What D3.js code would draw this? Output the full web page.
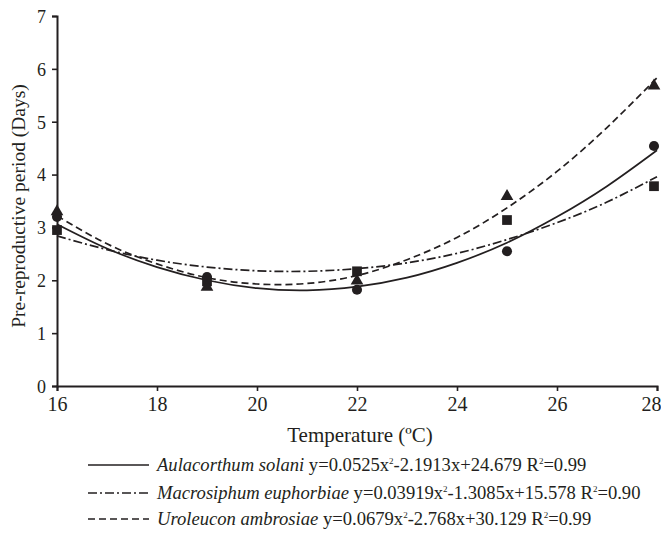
<!DOCTYPE html>
<html>
<head>
<meta charset="utf-8">
<script src="https://cdn.jsdelivr.net/npm/d3@7"></script>
<style>
  body { margin: 0; background: #fff; }
  svg text { font-family: "Liberation Serif", "Times New Roman", serif; fill: #231f20; }
</style>
</head>
<body>
<div id="chart"></div>
<script>
// observed temperatures and pre-reproductive period (days)
const temps = [16, 19, 22, 25, 28];
const solani = [3.2, 2.06, 1.82, 2.55, 4.54];
const euphorbiae = [2.95, 1.98, 2.17, 3.14, 3.78];
const ambrosiae = [3.3, 1.87, 1.99, 3.59, 5.68];

// fitted trend lines at each degree
const curveTemps = [16, 17, 18, 19, 20, 21, 22, 23, 24, 25, 26, 27, 28];
const solaniFit = [3.06, 2.6, 2.25, 2.0, 1.85, 1.81, 1.88, 2.05, 2.33, 2.71, 3.2, 3.78, 4.46];
const euphorbiaeFit = [2.84, 2.58, 2.38, 2.25, 2.18, 2.17, 2.22, 2.33, 2.51, 2.77, 3.09, 3.48, 3.96];
const ambrosiaeFit = [3.22, 2.69, 2.31, 2.05, 1.93, 1.94, 2.09, 2.39, 2.81, 3.37, 4.06, 4.89, 5.83];

const xTicks = [16, 18, 20, 22, 24, 26, 28];
const yTicks = [0, 1, 2, 3, 4, 5, 6, 7];

const legendNames = ["Aulacorthum solani", "Macrosiphum euphorbiae", "Uroleucon ambrosiae"];
const legendEq = [
  ["y=0.0525x", "2", "-2.1913x+24.679 R", "2", "=0.99"],
  ["y=0.03919x", "2", "-1.3085x+15.578 R", "2", "=0.90"],
  ["y=0.0679x", "2", "-2.768x+30.129 R", "2", "=0.99"],
];

const ink = "#231f20";
const width = 661, height = 533;

const svg = d3
  .select("#chart")
  .append("svg")
  .attr("width", width)
  .attr("height", height);

const x = d3.scaleLinear().domain([16, 28]).range([57, 657]);
const y = d3.scaleLinear().domain([0, 7]).range([386, 16]);

// axes
const xAxis = svg
  .append("g")
  .attr("transform", `translate(0, ${y(0)})`)
  .call(d3.axisBottom(x).tickValues(xTicks).tickSize(5).tickPadding(6).tickFormat(d3.format("d")));
const yAxis = svg
  .append("g")
  .attr("transform", `translate(${x(16)}, 0)`)
  .call(d3.axisLeft(y).tickValues(yTicks).tickSize(5).tickPadding(6).tickFormat(d3.format("d")));

[xAxis, yAxis].forEach((g) => {
  g.select(".domain").attr("stroke", ink).attr("stroke-width", 2);
  g.selectAll(".tick line").attr("stroke", ink).attr("stroke-width", 1.6);
  g.selectAll(".tick text").attr("fill", ink).style("font-family", "Liberation Serif");
});
xAxis.selectAll(".tick text").style("font-size", "20px");
// last label sits against the right edge, as in the source
xAxis.selectAll(".tick text").filter((d) => d === 28).attr("text-anchor", "end").attr("x", 661 - x(28));
yAxis.selectAll(".tick text").style("font-size", "18px").attr("dy", "0.35em");

svg
  .append("text")
  .attr("x", (x(16) + x(28)) / 2 + 3)
  .attr("y", 442)
  .attr("text-anchor", "middle")
  .style("font-size", "21px")
  .text("Temperature (ºC)");

svg
  .append("text")
  .attr("transform", `translate(25, 206) rotate(-90)`)
  .attr("text-anchor", "middle")
  .style("font-size", "19.5px")
  .text("Pre-reproductive period (Days)");

// trend lines
const dashes = [null, "9,3,2,3", "7,4"];
const fits = [solaniFit, euphorbiaeFit, ambrosiaeFit];
const line = d3
  .line()
  .x((d) => x(d[0]))
  .y((d) => y(d[1]))
  .curve(d3.curveNatural);

fits.forEach((fit, i) => {
  svg
    .append("path")
    .datum(curveTemps.map((t, j) => [t, fit[j]]))
    .attr("d", line)
    .attr("fill", "none")
    .attr("stroke", ink)
    .attr("stroke-width", 1.7)
    .attr("stroke-dasharray", dashes[i]);
});

// observed points
const symbols = [d3.symbolCircle, d3.symbolSquare, d3.symbolTriangle];
const sizes = [80, 95, 70];
const series = [solani, euphorbiae, ambrosiae];

series.forEach((vals, i) => {
  svg
    .append("g")
    .selectAll("path")
    .data(temps.map((t, j) => [t, vals[j]]))
    .enter()
    .append("path")
    .attr("transform", (d) => `translate(${x(d[0]) - (d[0] === 28 ? 3 : 0)}, ${y(d[1])})`)
    .attr("d", d3.symbol().type(symbols[i]).size(sizes[i]))
    .attr("fill", ink);
});

// legend
const legendY = [471, 499, 525];
legendNames.forEach((name, i) => {
  const g = svg.append("g");
  g.append("line")
    .attr("x1", 88)
    .attr("x2", 149)
    .attr("y1", legendY[i] - 6)
    .attr("y2", legendY[i] - 6)
    .attr("stroke", ink)
    .attr("stroke-width", 1.7)
    .attr("stroke-dasharray", dashes[i]);

  const t = g
    .append("text")
    .attr("x", 157)
    .attr("y", legendY[i])
    .style("font-size", "18.6px");
  t.append("tspan").style("font-style", "italic").text(name + " ");
  legendEq[i].forEach((part, k) => {
    const sup = k % 2 === 1;
    t.append("tspan")
      .attr("dy", sup ? -7 : k > 0 ? 7 : 0)
      .style("font-size", sup ? "9px" : "18.6px")
      .text(part);
  });
});
</script>
</body>
</html>
